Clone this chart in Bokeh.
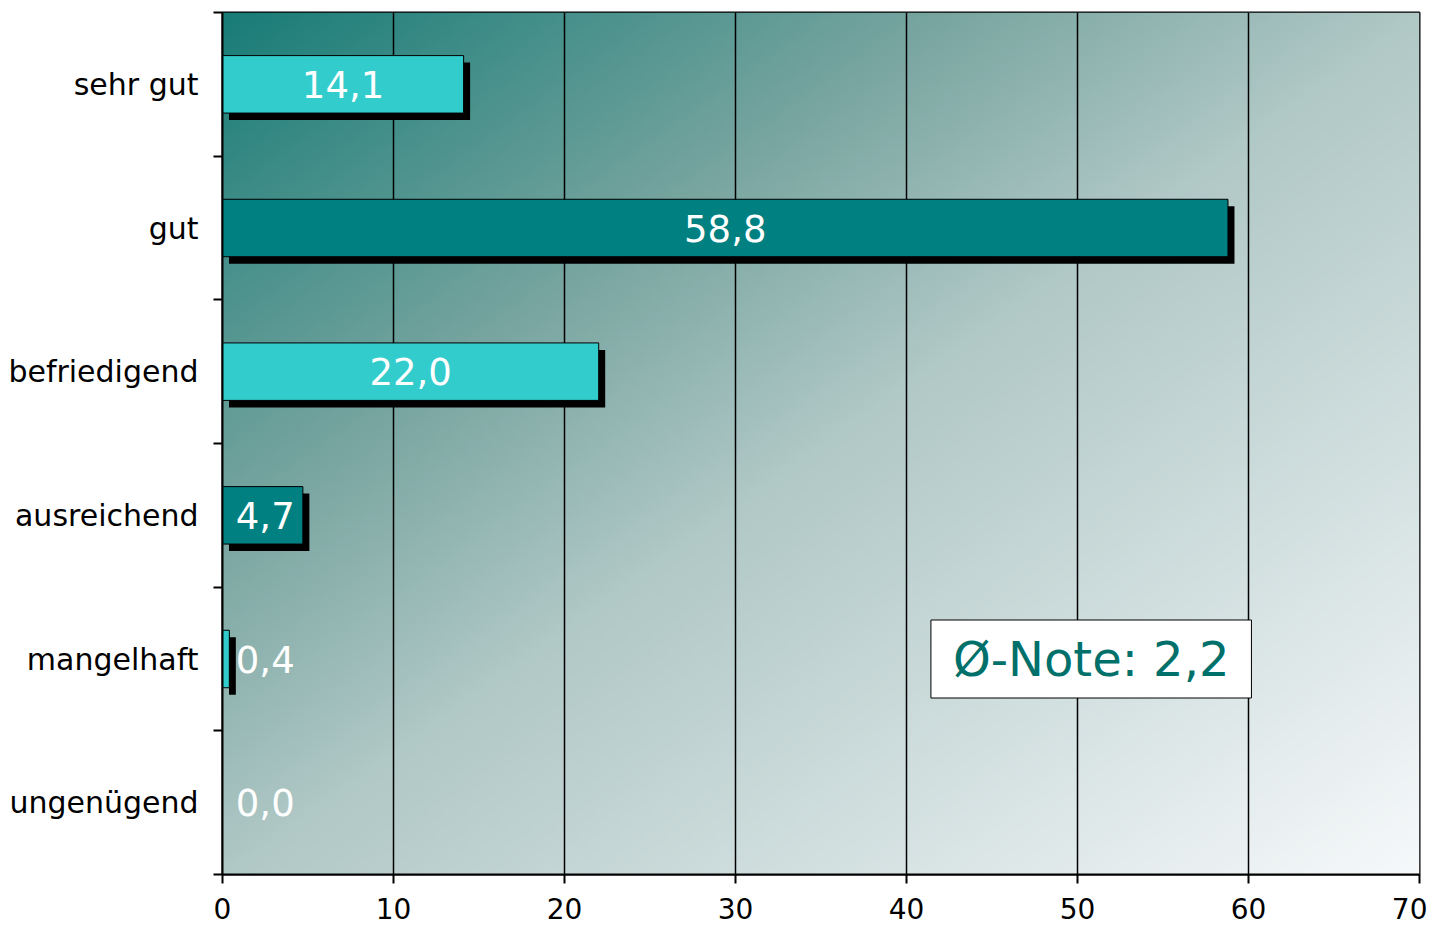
import numpy as np
from bokeh.plotting import figure
from bokeh.models import FixedTicker, Label, Range1d, ColumnDataSource
from bokeh.core.properties import value
from bokeh.embed import file_html
from bokeh.resources import INLINE

# ---- data ----
categories = ["sehr gut", "gut", "befriedigend", "ausreichend", "mangelhaft", "ungenügend"]
values = [14.1, 58.8, 22.0, 4.7, 0.4, 0.0]
bar_colors = ["#33CCCC", "#008080", "#33CCCC", "#008080", "#33CCCC", "#008080"]
x_ticks = [0, 10, 20, 30, 40, 50, 60, 70]
note_text = "Ø-Note: 2,2"

FONT = "DejaVu Sans"
n = len(categories)
ypos = [n - 0.5 - i for i in range(n)]
labels = [f"{v:.1f}".replace(".", ",") for v in values]
label_x = [max(v / 2, 2.5) for v in values]

# shadow offsets (in data units, ~6-7px)
dx = 6.5 / (1197 / 70)
dy = 7.0 / (862 / 6)
bar_h = 0.40

src = ColumnDataSource(dict(
    y=ypos, v=values, color=bar_colors, lab=labels, lx=label_x,
    sl=[dx if v > 0 else 0 for v in values],
    sr=[v + dx if v > 0 else 0 for v in values],
    st=[y + bar_h / 2 - dy for y in ypos],
    sb=[y - bar_h / 2 - dy for y in ypos],
))

p = figure(frame_width=1197, frame_height=862,
           x_range=Range1d(0, 70), y_range=Range1d(0, n),
           output_backend="svg", toolbar_location=None,
           min_border_left=222, min_border_right=8,
           min_border_top=12, min_border_bottom=53)

p.background_fill_color = "white"
p.border_fill_color = "white"
p.outline_line_color = "black"
p.outline_line_width = 2

# ---- gradient background ----
nx, ny = 300, 220
u = (np.arange(nx) + 0.5) / nx
vtop = 1 - (np.arange(ny) + 0.5) / ny
U, V = np.meshgrid(u, vtop)
t = (U + V) / 2
stops_t = [0.0, 0.3, 0.5, 1.0]
stops_c = np.array([[24, 124, 119], [120, 165, 160], [176, 200, 198], [247, 249, 251]], dtype=float)
img = np.empty((ny, nx), dtype=np.uint32)
view = img.view(dtype=np.uint8).reshape((ny, nx, 4))
for k in range(3):
    view[:, :, k] = np.interp(t, stops_t, stops_c[:, k]).astype(np.uint8)
view[:, :, 3] = 255
p.image_rgba(image=[img], x=0, y=0, dw=70, dh=n, level="image")

# ---- grid ----
p.ygrid.visible = False
p.xgrid.ticker = FixedTicker(ticks=x_ticks)
p.xgrid.grid_line_color = "black"
p.xgrid.grid_line_width = 1.5
p.xgrid.grid_line_alpha = 1.0

# ---- bars ----
p.quad(left="sl", right="sr", top="st", bottom="sb", source=src,
       fill_color="black", line_color=None)
p.hbar(y="y", left=0, right="v", height=bar_h, source=src,
       fill_color="color", line_color="black", line_width=1)
p.text(x="lx", y="y", text="lab", source=src, text_align="center",
       text_baseline="middle", text_color="white",
       text_font=value(FONT), text_font_size="37px")

# ---- note box ----
note = Label(x=50.8, y=1.5, text=note_text, text_align="center",
             text_baseline="middle", text_font=FONT, text_font_size="48px",
             text_color="#00706B", background_fill_color="white",
             border_line_color="black", border_line_width=1,
             padding=dict(left=22, right=22, top=11, bottom=11))
p.add_layout(note)

# ---- axes ----
p.xaxis.ticker = FixedTicker(ticks=x_ticks)
p.xaxis.major_tick_out = 9
p.xaxis.major_tick_in = 0
p.xaxis.minor_tick_out = 0
p.xaxis.minor_tick_in = 0
p.xaxis.axis_line_width = 2
p.xaxis.major_tick_line_width = 2
p.xaxis.major_label_text_font = FONT
p.xaxis.major_label_text_font_size = "28px"
p.xaxis.major_label_text_color = "black"
p.xaxis.major_label_standoff = 14

p.yaxis.ticker = FixedTicker(ticks=ypos, minor_ticks=list(range(n + 1)))
p.yaxis.major_label_overrides = {y: c for y, c in zip(ypos, categories)}
p.yaxis.major_tick_out = 0
p.yaxis.major_tick_in = 0
p.yaxis.minor_tick_out = 9
p.yaxis.minor_tick_in = 0
p.yaxis.minor_tick_line_width = 2
p.yaxis.axis_line_width = 2
p.yaxis.major_label_text_font = FONT
p.yaxis.major_label_text_font_size = "30px"
p.yaxis.major_label_text_color = "black"
p.yaxis.major_label_standoff = 15

open("out.html", "w").write(file_html(p, INLINE))
